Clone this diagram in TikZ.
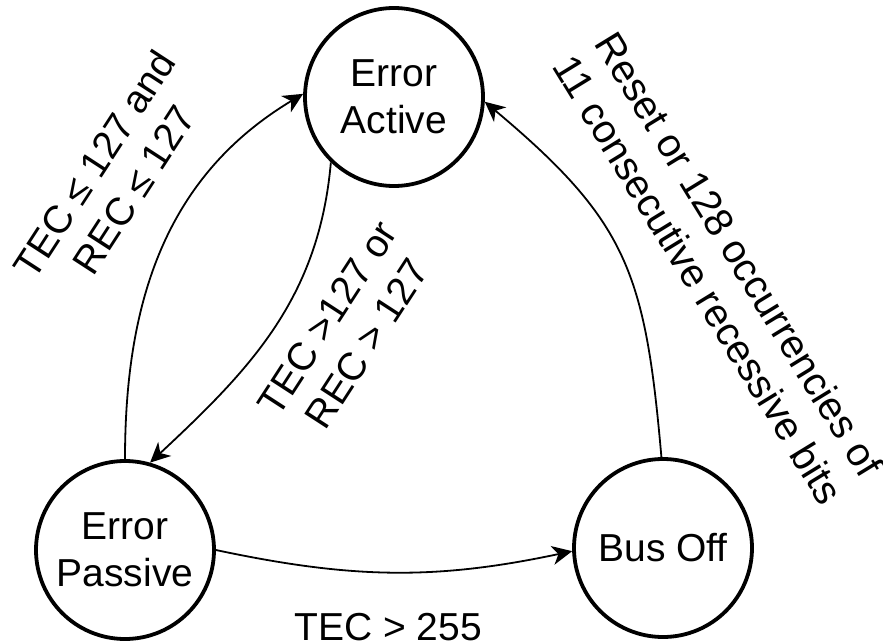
\documentclass[tikz,border=0pt]{standalone}
\usepackage{fontspec}
\setmainfont{Liberation Sans}
\usetikzlibrary{arrows.meta}
\begin{document}
\begin{tikzpicture}[x=1pt,y=1pt,
  state/.style={circle, draw, line width=3.8pt, minimum size=178pt, inner sep=0pt,
    align=center, font=\fontsize{39}{47}\selectfont},
  lbl/.style={align=center, font=\fontsize{39}{47}\selectfont, inner sep=0pt},
  trans/.style={line width=1.8pt, -{Stealth[length=20pt,width=19pt,inset=6pt]}}]
\useasboundingbox (0,0) rectangle (883,-642);

% states
\node[state] (ea) at (394,-97)  {Error\\Active};
\node[state] (ep) at (125,-550) {Error\\Passive};
\node[state] (bo) at (663,-548) {Bus Off};

% transitions
\draw[trans] (ep.90)  to[out=90,in=211] (ea.178);
\draw[trans] (ea.226) to[out=265,in=43] (ep.74);
\draw[trans] (ep.0)   to[out=-12,in=192] (bo.182);
\draw[trans] (bo.91)  to[out=95,in=-40,looseness=1.2] (ea.-3);

% transition conditions
\node[lbl, rotate=57]    (la) at (114,-177) {TEC ≤ 127 and\\REC ≤ 127};
\node[lbl, rotate=57]    (lb) at (347,-331) {TEC >127 or\\REC > 127};
\node[lbl, rotate=-58.5, font=\fontsize{40}{48}\selectfont]
                         (lc) at (719,-267) {Reset or 128 occurrencies of\\11 consecutive recessive bits};
\node[lbl]               (ld) at (388,-627) {TEC > 255};
\end{tikzpicture}
\end{document}
